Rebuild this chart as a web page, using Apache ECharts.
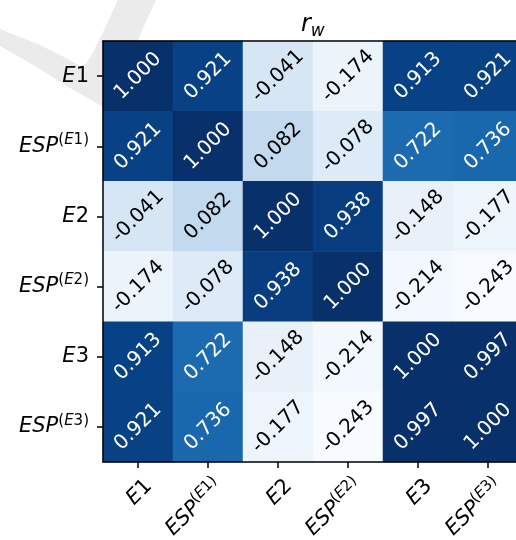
<!DOCTYPE html>
<html>
<head>
<meta charset="utf-8">
<script src="https://cdn.jsdelivr.net/npm/echarts@6/dist/echarts.min.js"></script>
<style>
html,body{margin:0;padding:0;background:#fff;}
#chart{width:516px;height:540px;}
</style>
</head>
<body>
<div id="chart"></div>
<script>
// Category labels: [main, superscript]
const categories = [['E1',''],['ESP','(E1)'],['E2',''],['ESP','(E2)'],['E3',''],['ESP','(E3)']];
const titleMain = 'r';
const titleSub = 'w';
// Correlation matrix rows (top to bottom)
const rowE1   = [1.000, 0.921, -0.041, -0.174, 0.913, 0.921];
const rowESP1 = [0.921, 1.000, 0.082, -0.078, 0.722, 0.736];
const rowE2   = [-0.041, 0.082, 1.000, 0.938, -0.148, -0.177];
const rowESP2 = [-0.174, -0.078, 0.938, 1.000, -0.214, -0.243];
const rowE3   = [0.913, 0.722, -0.148, -0.214, 1.000, 0.997];
const rowESP3 = [0.921, 0.736, -0.177, -0.243, 0.997, 1.000];
const matrix = [rowE1, rowESP1, rowE2, rowESP2, rowE3, rowESP3];

const blues = ['#f7fbff','#deebf7','#c6dbef','#9ecae1','#6baed6','#4292c6','#2171b5','#08519c','#08306b'];
const FONT = 'DejaVu Sans';
let vmin = Infinity, vmax = -Infinity;
matrix.forEach(r => r.forEach(v => { vmin = Math.min(vmin, v); vmax = Math.max(vmax, v); }));

const keys = categories.map((c, i) => 'c' + i);
function richLabel(c) {
  const toTokens = (s, pre) => s.split('').map(ch => {
    const isLetter = /[A-Za-z]/.test(ch);
    return '{' + pre + (isLetter ? 'i' : 'u') + '|' + ch + '}';
  }).join('');
  return toTokens(c[0], 'm') + (c[1] ? toTokens(c[1], 's') : '');
}
const labelMap = {};
categories.forEach((c, i) => labelMap[keys[i]] = richLabel(c));

const rich = {
  mi: {fontFamily: FONT, fontStyle: 'italic', fontSize: 21, lineHeight: 27, color: '#000'},
  mu: {fontFamily: FONT, fontStyle: 'normal', fontSize: 21, lineHeight: 27, color: '#000'},
  si: {fontFamily: FONT, fontStyle: 'italic', fontSize: 15, lineHeight: 15, verticalAlign: 'top', color: '#000'},
  su: {fontFamily: FONT, fontStyle: 'normal', fontSize: 15, lineHeight: 15, verticalAlign: 'top', color: '#000'}
};

const data = [];
matrix.forEach((row, yi) => row.forEach((v, xi) => {
  const norm = (v - vmin) / (vmax - vmin);
  data.push({value: [xi, yi, v], label: {color: norm > 0.5 ? '#fff' : '#000'}});
}));

const axisLineStyle = {color: '#000', width: 1.5};
const chart = echarts.init(document.getElementById('chart'), null, {renderer: 'canvas'});
chart.setOption({
  backgroundColor: '#fff',
  animation: false,
  graphic: [{
    type: 'polygon', x: 0, y: 0, z: 0, silent: true,
    shape: {points: [[0,29],[40,45],[66,58],[80,66],[86,64],[92,54],[104,30],[118,0],[156,0],[140,35],[126,70],[112,112],[70,88],[35,66],[0,46]]},
    style: {fill: '#ebebeb'}
  }],
  title: {
    text: '{r|' + titleMain + '}{w|' + titleSub + '}',
    left: 296, top: 5,
    textStyle: {
      fontWeight: 'normal',
      rich: {
        r: {fontFamily: FONT, fontStyle: 'italic', fontWeight: 'normal', fontSize: 24, lineHeight: 30, color: '#000'},
        w: {fontFamily: FONT, fontStyle: 'italic', fontWeight: 'normal', fontSize: 17, lineHeight: 17, verticalAlign: 'bottom', color: '#000'}
      }
    }
  },
  grid: {left: 103, top: 41, width: 420, height: 421, outerBoundsMode: 'none', containLabel: false},
  visualMap: {type: 'continuous', min: vmin, max: vmax, show: false, dimension: 2, inRange: {color: blues}},
  xAxis: [{
    type: 'category', data: keys, position: 'bottom', z: 10,
    axisLine: {show: true, lineStyle: axisLineStyle},
    axisTick: {show: true, alignWithLabel: true, length: 6, lineStyle: axisLineStyle},
    axisLabel: {
      show: true, rotate: 45, interval: 0, margin: 10, verticalAlign: 'top', padding: [2, 0, 0, 0],
      formatter: v => labelMap[v], rich: rich
    },
    splitLine: {show: false}
  }, {
    type: 'category', data: keys, position: 'top', z: 10,
    axisLine: {show: true, lineStyle: axisLineStyle}, axisTick: {show: false}, axisLabel: {show: false}
  }],
  yAxis: [{
    type: 'category', data: keys, inverse: true, position: 'left', z: 10,
    axisLine: {show: true, lineStyle: axisLineStyle},
    axisTick: {show: true, alignWithLabel: true, length: 6, lineStyle: axisLineStyle},
    axisLabel: {show: true, interval: 0, margin: 14, formatter: v => labelMap[v], rich: rich},
    splitLine: {show: false}
  }, {
    type: 'category', data: keys, inverse: true, position: 'right', z: 10,
    axisLine: {show: true, lineStyle: axisLineStyle}, axisTick: {show: false}, axisLabel: {show: false}
  }],
  series: [{
    type: 'heatmap', xAxisIndex: 0, yAxisIndex: 0,
    data: data,
    label: {
      show: true, rotate: 45, fontFamily: FONT, fontSize: 20,
      formatter: p => p.value[2].toFixed(3)
    },
    itemStyle: {borderWidth: 0},
    emphasis: {disabled: true}
  }]
});
</script>
</body>
</html>
